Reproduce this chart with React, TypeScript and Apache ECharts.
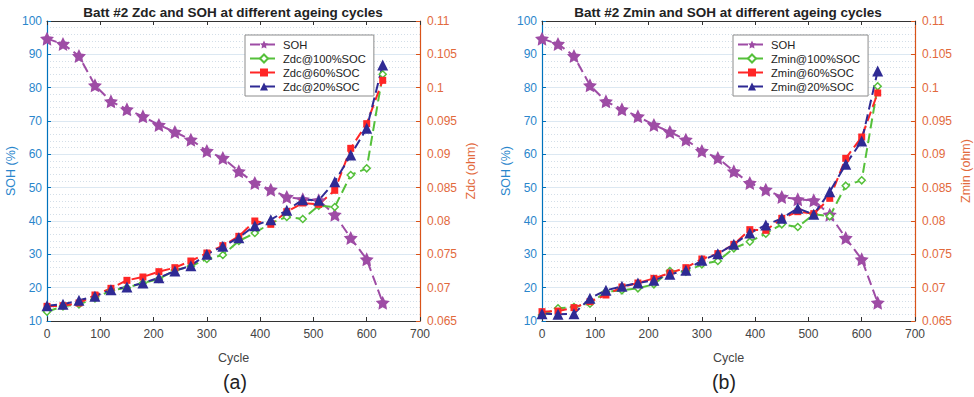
import React, { useEffect, useRef } from "react";
import * as echarts from "echarts";

const cycles = [0, 30, 60, 90, 120, 150, 180, 210, 240, 270, 300, 330, 360, 390, 420, 450, 480, 510, 540, 570, 600, 630];
const soh = [94.7, 93.1, 89.5, 80.7, 75.9, 73.5, 71.4, 68.8, 66.7, 64.4, 61.0, 58.9, 54.9, 51.4, 49.4, 47.2, 46.5, 46.2, 41.9, 34.9, 28.5, 15.5];

const zdc100 = [0.0664, 0.0672, 0.0675, 0.0684, 0.0696, 0.07, 0.0707, 0.0713, 0.0726, 0.0732, 0.0743, 0.0749, 0.077, 0.0782, 0.0797, 0.0806, 0.0803, 0.0823, 0.0821, 0.0869, 0.0879, 0.102];
const zdc60 = [0.0672, 0.0673, 0.0677, 0.0689, 0.0699, 0.0711, 0.0716, 0.0724, 0.073, 0.074, 0.0752, 0.0763, 0.0777, 0.08, 0.0795, 0.0814, 0.0827, 0.0825, 0.0846, 0.0909, 0.0946, 0.1011];
const zdc20 = [0.0673, 0.0675, 0.0681, 0.0687, 0.0697, 0.0701, 0.0707, 0.0715, 0.0725, 0.0733, 0.075, 0.0762, 0.0775, 0.0793, 0.0802, 0.0816, 0.0832, 0.0831, 0.0859, 0.0899, 0.0939, 0.1034];

const zmin100 = [0.0659, 0.0669, 0.0671, 0.0676, 0.0694, 0.0696, 0.0699, 0.0705, 0.0725, 0.0724, 0.0735, 0.074, 0.0759, 0.0769, 0.0781, 0.0795, 0.0791, 0.081, 0.0807, 0.0853, 0.0861, 0.1002];
const zmin60 = [0.0664, 0.0665, 0.067, 0.0679, 0.0689, 0.0701, 0.0707, 0.0714, 0.0722, 0.073, 0.0743, 0.0751, 0.0765, 0.0787, 0.0786, 0.0804, 0.0814, 0.0811, 0.0834, 0.0894, 0.0926, 0.0992];
const zmin20 = [0.0661, 0.066, 0.0661, 0.0684, 0.0696, 0.0702, 0.0707, 0.0711, 0.072, 0.0726, 0.0741, 0.0751, 0.0765, 0.0782, 0.0794, 0.0804, 0.0819, 0.081, 0.0844, 0.0885, 0.092, 0.1025];

const xTicks = { min: 0, max: 700, interval: 100 };
const sohTicks = { min: 10, max: 100, interval: 10 };
const zTicks = { min: 0.065, max: 0.11, interval: 0.005 };

const FONT = "Liberation Sans";
const C_SOH = "#9E4CA5";
const C_G = "#55C03A";
const C_R = "#FF2626";
const C_B = "#2F2A94";
const C_LEFT = "#0072BD";
const C_RIGHT = "#D95319";

const STAR =
  "path://M50,0 L64.69,29.77 L97.55,34.55 L73.78,57.73 L79.39,90.45 L50,75 L20.61,90.45 L26.22,57.73 L2.45,34.55 L35.31,29.77 Z";

const pairs = (ys: number[]) => cycles.map((c, i) => [c, ys[i]]);

function makeSeries(gi: number, prefix: string, z100: number[], z60: number[], z20: number[]) {
  const dash = [10, 5];
  const base = { type: "line", xAxisIndex: gi * 2, z: 3 };
  return [
    {
      ...base,
      name: "SOH",
      yAxisIndex: gi * 2,
      data: pairs(soh),
      symbol: STAR,
      symbolSize: 14,
      lineStyle: { color: C_SOH, width: 2, type: dash },
      itemStyle: { color: C_SOH },
    },
    {
      ...base,
      name: prefix + "@100%SOC",
      yAxisIndex: gi * 2 + 1,
      data: pairs(z100),
      symbol: "diamond",
      symbolSize: 7,
      lineStyle: { color: C_G, width: 2, type: dash },
      itemStyle: { color: "#ffffff", borderColor: C_G, borderWidth: 1.5 },
    },
    {
      ...base,
      name: prefix + "@60%SOC",
      yAxisIndex: gi * 2 + 1,
      data: pairs(z60),
      symbol: "rect",
      symbolSize: 7,
      lineStyle: { color: C_R, width: 2, type: dash },
      itemStyle: { color: C_R },
    },
    {
      ...base,
      name: prefix + "@20%SOC",
      yAxisIndex: gi * 2 + 1,
      data: pairs(z20),
      symbol: "triangle",
      symbolSize: 11,
      lineStyle: { color: C_B, width: 2, type: dash },
      itemStyle: { color: C_B },
    },
  ];
}

function xAxes(gi: number) {
  const line = { lineStyle: { color: "#333333", width: 1 } };
  return [
    {
      type: "value",
      gridIndex: gi,
      position: "bottom",
      ...xTicks,
      name: "Cycle",
      nameLocation: "middle",
      nameGap: 30,
      nameTextStyle: { color: "#444444", fontSize: 12.5, fontFamily: FONT },
      axisLine: { show: true, onZero: false, ...line },
      axisTick: { show: true, inside: true, length: 4, ...line },
      axisLabel: { color: "#444444", fontSize: 12, fontFamily: FONT, margin: 7 },
      splitLine: { show: false },
    },
    {
      type: "value",
      gridIndex: gi,
      position: "top",
      ...xTicks,
      axisLine: { show: true, onZero: false, ...line },
      axisTick: { show: true, inside: true, length: 4, ...line },
      axisLabel: { show: false },
      splitLine: { show: false },
    },
  ];
}

function yAxes(gi: number, rightName: string) {
  return [
    {
      type: "value",
      gridIndex: gi,
      position: "left",
      ...sohTicks,
      name: "SOH (%)",
      nameLocation: "middle",
      nameGap: 30,
      nameTextStyle: { color: "#2A86CC", fontSize: 12.5, fontFamily: FONT },
      axisLine: { show: true, onZero: false, lineStyle: { color: C_LEFT, width: 1.2 } },
      axisTick: { show: true, inside: true, length: 4, lineStyle: { color: C_LEFT } },
      axisLabel: { color: "#2A86CC", fontSize: 12, fontFamily: FONT, margin: 5 },
      splitLine: { show: true, lineStyle: { color: "#DCE8F2", width: 1 } },
      minorTick: { show: false, splitNumber: 5 },
      minorSplitLine: { show: true, lineStyle: { color: "#D3DEE8", type: [1, 2], width: 1 } },
    },
    {
      type: "value",
      gridIndex: gi,
      position: "right",
      ...zTicks,
      name: rightName,
      nameLocation: "middle",
      nameGap: 44,
      nameTextStyle: { color: "#E2693C", fontSize: 12.5, fontFamily: FONT },
      axisLine: { show: true, onZero: false, lineStyle: { color: C_RIGHT, width: 1.2 } },
      axisTick: { show: true, inside: true, length: 4, lineStyle: { color: C_RIGHT } },
      axisLabel: {
        color: "#E2693C",
        fontSize: 12,
        fontFamily: FONT,
        margin: 7,
        formatter: (v: number) => String(+v.toFixed(3)),
      },
      splitLine: { show: false },
    },
  ];
}

function legend(left: number, prefix: string) {
  return {
    orient: "vertical",
    left,
    top: 35,
    padding: [4, 8, 4, 4],
    itemGap: 3,
    itemWidth: 28,
    itemHeight: 10,
    backgroundColor: "#ffffff",
    borderColor: "#8C8C8C",
    borderWidth: 1,
    borderRadius: 0,
    textStyle: { color: "#222222", fontSize: 11.2, fontFamily: FONT },
    data: ["SOH", prefix + "@100%SOC", prefix + "@60%SOC", prefix + "@20%SOC"],
  };
}

function label(text: string, x: number, y: number, size: number, bold: boolean) {
  return {
    type: "text",
    x,
    y,
    z: 10,
    style: {
      text,
      fill: "#222222",
      fontSize: size,
      fontWeight: bold ? "bold" : "normal",
      fontFamily: FONT,
      textAlign: "center",
      textVerticalAlign: "middle",
    },
  };
}

export default function App() {
  const ref = useRef<HTMLDivElement>(null);
  useEffect(() => {
    if (!ref.current) return;
    const chart = echarts.init(ref.current, null, { renderer: "svg" });
    const option: any = {
      animation: false,
      backgroundColor: "#ffffff",
      textStyle: { fontFamily: FONT },
      grid: [
        { left: 47, top: 21, width: 373, height: 300, show: true, backgroundColor: "#ffffff", borderWidth: 0 },
        { left: 542, top: 21, width: 373, height: 300, show: true, backgroundColor: "#ffffff", borderWidth: 0 },
      ],
      xAxis: [...xAxes(0), ...xAxes(1)],
      yAxis: [...yAxes(0, "Zdc (ohm)"), ...yAxes(1, "Zmin (ohm)")],
      legend: [legend(245, "Zdc"), legend(733, "Zmin")],
      series: [...makeSeries(0, "Zdc", zdc100, zdc60, zdc20), ...makeSeries(1, "Zmin", zmin100, zmin60, zmin20)],
      graphic: [
        label("Batt #2 Zdc and SOH at different ageing cycles", 233, 12, 13.5, true),
        label("Batt #2 Zmin and SOH at different ageing cycles", 728, 12, 13.5, true),
        label("(a)", 235, 382, 19.5, false),
        label("(b)", 724, 382, 19.5, false),
      ],
    };
    chart.setOption(option);
    return () => chart.dispose();
  }, []);
  return (
    <div style={{ position: "absolute", left: 0, top: 0, width: 974, height: 397, background: "#fff" }}>
      <div ref={ref} style={{ width: 974, height: 397 }} />
    </div>
  );
}
